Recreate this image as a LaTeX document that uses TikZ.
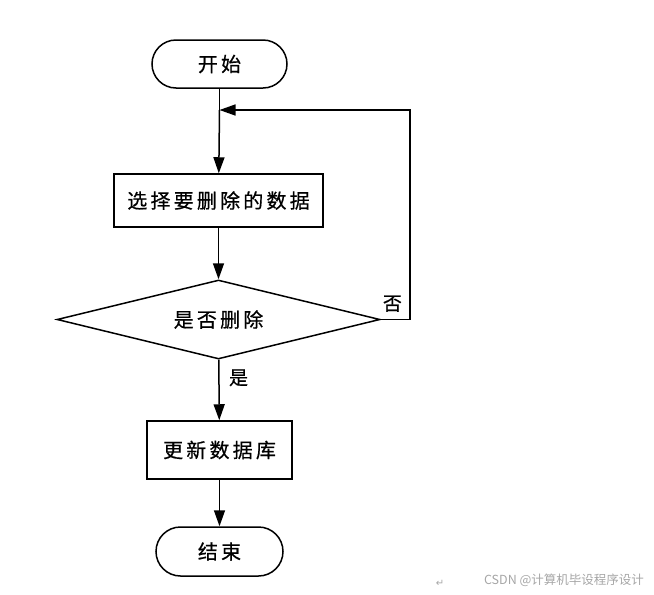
\documentclass[tikz,border=0pt]{standalone}
\usepackage{fontspec}
\setmainfont{Noto Sans CJK SC}[LetterSpace=16,FakeBold=0.6]
\newfontfamily\plainfont{Noto Sans CJK SC}
\newfontfamily\symfont{DejaVu Sans}
\usepackage{tikz}
\usetikzlibrary{arrows.meta,shapes.geometric,positioning}

\begin{document}
\begin{tikzpicture}[x=1pt,y=-1pt,
                    line width=1.5pt,
                    >={Triangle[length=16pt,width=11pt]},
                    term/.style n args={2}{draw,rectangle,
                    minimum width=#1pt,minimum height=#2pt,
                    rounded corners=#2pt/2,inner sep=0pt,
                    font=\fontsize{20}{20}\selectfont},
                    proc/.style n args={2}{draw,rectangle,
                    minimum width=#1pt,minimum height=#2pt,inner sep=0pt,
                    font=\fontsize{20}{20}\selectfont},
                    dec/.style={draw,diamond,aspect=4.09,minimum width=323pt,minimum height=79pt,
                    inner sep=0pt,font=\fontsize{20}{20}\selectfont},
                    lbl/.style={font=\fontsize{19}{19}\selectfont}]
    \useasboundingbox (0,0) rectangle (654,595);
    \node[term={135}{48}](start) at (219.5,64) {开始};
    \node[proc={209}{53}](select) at (218.5,200.5) {选择要删除的数据};
    \node[dec](ask) at (218.5,319.5) {是否删除};
    \node[proc={145}{58}](update) at (219.5,450) {更新数据库};
    \node[term={127}{49}](stop) at (219.5,551.5) {结束};
    \coordinate (loop) at (219.5,110);
    \coordinate (corner) at (410,110);
    \draw (start) -- (loop);
    \draw[->] (loop) -- (select);
    \draw[->] (select) -- (ask);
    \draw[->] (ask) -- node[lbl,right=6pt,pos=0.3]{是} (update);
    \draw[->] (update) -- (stop);
    \draw[->] (ask.east) -| (corner) -- (loop);
    \node[lbl,anchor=south east] (no) at (406,316) {否};
    % watermark
    \node[text=gray!70,font=\symfont\fontsize{10}{10}\selectfont] (ret) at (440,583) {↵};
    \node[text=gray!70,font=\plainfont\fontsize{12.5}{12.5}\selectfont,anchor=east] (mark) at (648,580) {CSDN @计算机毕设程序设计};
\end{tikzpicture}
\end{document}
